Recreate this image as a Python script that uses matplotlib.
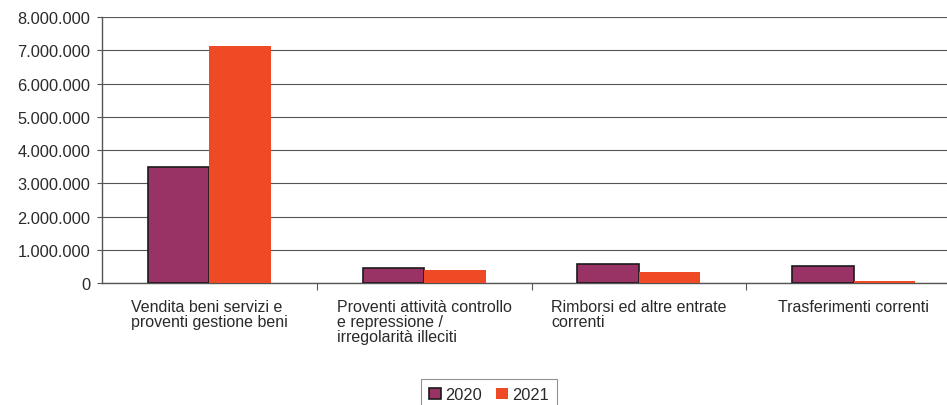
import numpy as np
import matplotlib
matplotlib.use('Agg')
import matplotlib.pyplot as plt
from matplotlib.patches import Patch

plt.rcParams['font.family'] = ['Liberation Sans', 'DejaVu Sans']

# Data
categories = [
    'Vendita beni servizi e\nproventi gestione beni',
    'Proventi attività controllo\ne repressione /\nirregolarità illeciti',
    'Rimborsi ed altre entrate\ncorrenti',
    'Trasferimenti correnti',
]
values_2020 = [3480000, 460000, 590000, 530000]
values_2021 = [7130000, 400000, 330000, 70000]
series_labels = ['2020', '2021']
y_ticks = [0, 1000000, 2000000, 3000000, 4000000, 5000000, 6000000, 7000000, 8000000]

color_2020 = '#993366'
color_2021 = '#EE4A26'
text_color = '#2a2a2a'

fig = plt.figure(figsize=(9.47, 4.06), dpi=100)
ax = fig.add_axes([102 / 947, 1 - 284.3 / 406, (961 - 102) / 947, (284.3 - 18) / 406])

x = np.arange(len(categories))
w = 0.286
ax.bar(x - w / 2, values_2020, w, color=color_2020, edgecolor='#1a1a1a', linewidth=1.2, zorder=3)
ax.bar(x + w / 2, values_2021, w, color=color_2021, linewidth=0, zorder=3)

ax.set_xlim(-0.5, len(categories) - 0.5)
ax.set_ylim(0, 8000000)
ax.set_yticks(y_ticks)
ax.set_yticklabels([f'{v:,}'.replace(',', '.') for v in y_ticks])
ax.yaxis.grid(True, color='#555555', linewidth=0.8)
ax.set_axisbelow(True)

ax.set_xticks(x)
ax.set_xticklabels(categories)
for lbl in ax.get_xticklabels():
    lbl.set_multialignment('left')
    lbl.set_linespacing(1.0)
ax.set_xticks(np.arange(0.5, len(categories) - 0.5, 1), minor=True)
ax.tick_params(axis='x', which='major', length=0, pad=11, labelsize=11.5, labelcolor=text_color)
ax.tick_params(axis='x', which='minor', length=5, width=0.8, color='#555555')
ax.tick_params(axis='y', length=3.6, width=0.8, color='#555555', pad=5, labelsize=11.8, labelcolor=text_color)

for side in ['top', 'right']:
    ax.spines[side].set_visible(False)
ax.spines['left'].set_color('#555555')
ax.spines['bottom'].set_color('#555555')
ax.spines['left'].set_linewidth(1.0)
ax.spines['bottom'].set_linewidth(1.0)

handles = [
    Patch(facecolor=color_2020, edgecolor='#1a1a1a', linewidth=1.2, label=series_labels[0]),
    Patch(facecolor=color_2021, edgecolor=color_2021, linewidth=0, label=series_labels[1]),
]
leg = fig.legend(handles=handles, loc='upper center', bbox_to_anchor=(489 / 947, 1 - 380 / 406),
                 ncol=2, frameon=True, fancybox=False, edgecolor='#777777', fontsize=11.8,
                 handlelength=0.7, handleheight=0.7, handletextpad=0.25, columnspacing=0.9,
                 borderpad=0.5, borderaxespad=0)
leg.get_frame().set_linewidth(0.8)
for t in leg.get_texts():
    t.set_color(text_color)

fig.savefig('out.png', dpi=100)
